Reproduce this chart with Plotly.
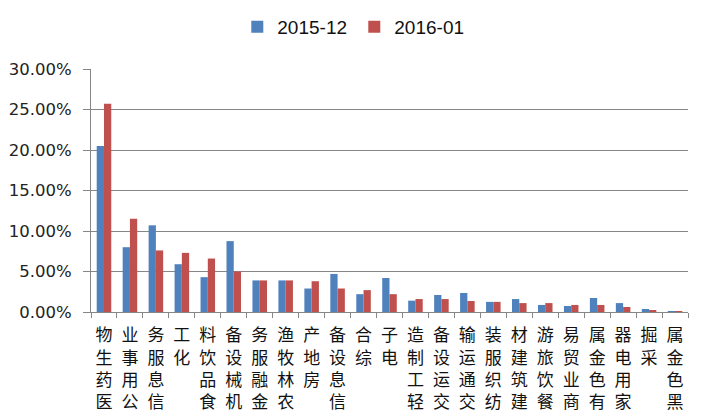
import plotly.graph_objects as go

categories = ["医药生物", "公用事业", "信息服务", "化工", "食品饮料", "机械设备", "金融服务",
              "农林牧渔", "房地产", "信息设备", "综合", "电子", "轻工制造", "交运设备",
              "交通运输", "纺织服装", "建筑建材", "餐饮旅游", "商业贸易", "有色金属",
              "家用电器", "采掘", "黑色金属"]
s2015_12 = [20.5, 8.0, 10.7, 5.9, 4.3, 8.75, 3.9, 3.9, 2.9, 4.7, 2.2, 4.2, 1.4, 2.1,
            2.35, 1.25, 1.6, 0.87, 0.74, 1.73, 1.1, 0.37, 0.12]
s2016_01 = [25.7, 11.5, 7.6, 7.3, 6.6, 5.0, 3.9, 3.9, 3.8, 2.9, 2.7, 2.2, 1.6, 1.6,
            1.36, 1.25, 1.1, 1.1, 0.87, 0.87, 0.62, 0.25, 0.12]
y_ticks = [0, 5, 10, 15, 20, 25, 30]
y_ticklabels = ["0.00%", "5.00%", "10.00%", "15.00%", "20.00%", "25.00%", "30.00%"]

# rotated labels read bottom-to-top with upright glyphs: stack characters in reverse
vertical_labels = ["<br>".join(list(c)[::-1]) for c in categories]

fig = go.Figure()
fig.add_trace(go.Bar(name="2015-12", x=categories, y=s2015_12,
                     marker=dict(color="#4F81BD", line=dict(width=0))))
fig.add_trace(go.Bar(name="2016-01", x=categories, y=s2016_01,
                     marker=dict(color="#C0504D", line=dict(width=0))))

# page body has an 8px margin, so the figure is drawn 8px in from the top-left
fig.update_layout(
    width=701, height=412,
    margin=dict(l=83, r=21, t=61, b=108, autoexpand=False),
    paper_bgcolor="white", plot_bgcolor="white",
    barmode="group", bargap=0.44, bargroupgap=0,
    font=dict(family="Liberation Sans, Arial, sans-serif", color="#222222"),
    legend=dict(orientation="h", xref="container", yref="container",
                x=0.494, y=0.954, xanchor="center", yanchor="middle",
                font=dict(size=19, color="#111111"), itemwidth=30,
                entrywidth=72, entrywidthmode="pixels",
                traceorder="normal"),
    showlegend=True,
)
fig.update_xaxes(
    tickmode="array", tickvals=categories, ticktext=vertical_labels,
    tickangle=0, tickson="boundaries", ticks="outside", ticklen=5,
    tickcolor="#868686", showline=True, linecolor="#868686", linewidth=1,
    showgrid=False, automargin=False, ticklabelstandoff=8,
    tickfont=dict(family="Noto Sans CJK SC", size=17, color="#111111"),
)
fig.update_yaxes(
    range=[0, 30], tickmode="array", tickvals=y_ticks, ticktext=y_ticklabels,
    ticks="outside", ticklen=7, tickcolor="#868686",
    showline=True, linecolor="#868686", linewidth=1,
    showgrid=True, gridcolor="#868686", gridwidth=1, zeroline=False,
    automargin=False, ticklabelstandoff=8,
    tickfont=dict(family="DejaVu Sans", size=16.5, color="#222222"),
)

fig.write_html("out.html")
